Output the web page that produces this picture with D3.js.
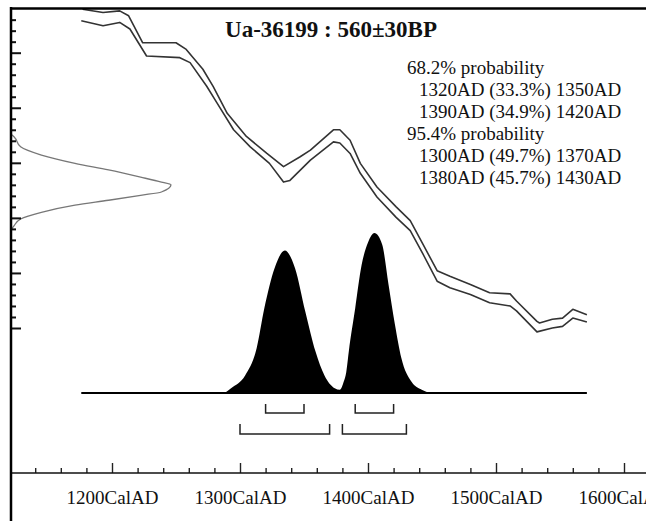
<!DOCTYPE html>
<html>
<head>
<meta charset="utf-8">
<script src="https://cdn.jsdelivr.net/npm/d3@7"></script>
<style>
  html, body { margin: 0; padding: 0; background: #fff; }
  svg { display: block; }
</style>
</head>
<body>
<svg id="chart" width="646" height="521"></svg>
<script>
// ---------------- data ----------------
const title = "Ua-36199 : 560\u00b130BP";
const probText = [
  { text: "68.2% probability", indent: 0 },
  { text: "1320AD (33.3%) 1350AD", indent: 1 },
  { text: "1390AD (34.9%) 1420AD", indent: 1 },
  { text: "95.4% probability", indent: 0 },
  { text: "1300AD (49.7%) 1370AD", indent: 1 },
  { text: "1380AD (45.7%) 1430AD", indent: 1 }
];
const xMajorTicks = [1200, 1300, 1400, 1500, 1600];
const xMinorTicks = [1140,1160,1180,1220,1240,1260,1280,1320,1340,1360,1380,1420,1440,1460,1480,1520,1540,1560,1580];
const yMajorTicks = [300, 400, 500, 600, 700, 800];
const yMinorTicks = [320,340,360,380,420,440,460,480,520,540,560,580,620,640,660,680,720,740,760,780,820,840,860];

// calibration curve envelope (year AD, radiocarbon BP)
const calUpper = [[1177,879],[1193,873],[1206,876],[1213,867],[1224,818],[1250,818],[1258,806],[1271,770],[1279,739],[1290,690],[1305,648],[1321,617],[1334,593],[1347,611],[1355,623],[1373,660],[1378,660],[1386,641],[1394,599],[1407,556],[1422,520],[1433,495],[1443,452],[1454,404],[1464,394],[1480,379],[1495,364],[1511,362],[1516,349],[1532,312],[1534,309],[1544,316],[1552,318],[1560,334],[1571,324]];
const calLower = [[1176,858],[1193,849],[1206,855],[1214,843],[1227,794],[1253,791],[1261,782],[1274,739],[1282,709],[1295,660],[1308,629],[1323,599],[1334,565],[1339,568],[1355,605],[1373,638],[1378,636],[1386,617],[1394,581],[1407,538],[1422,501],[1433,477],[1443,434],[1454,385],[1464,373],[1480,361],[1495,346],[1511,340],[1516,331],[1532,293],[1544,300],[1552,303],[1560,318],[1571,311]];

// radiocarbon measurement (BP, relative probability)
const measured = [[652,0],[647,0.02],[629,0.06],[614,0.19],[599,0.40],[587,0.61],[574,0.81],[565,0.94],[560,1.0],[547,0.94],[541,0.81],[532,0.61],[523,0.40],[510,0.19],[498,0.06],[486,0.02],[478,0]];

// calibrated distribution (year AD, relative probability)
const calibrated = [[1288,0],[1293,0.03],[1304,0.11],[1313,0.28],[1319,0.53],[1327,0.78],[1335,0.89],[1343,0.78],[1351,0.51],[1359,0.26],[1366,0.11],[1374,0.03],[1378,0.02],[1381,0.07],[1383,0.13],[1385,0.26],[1390,0.53],[1395,0.80],[1400,0.94],[1405,1.0],[1411,0.93],[1416,0.68],[1421,0.43],[1426,0.22],[1434,0.07],[1442,0.02],[1448,0]];

const ranges68 = [[1320,1350],[1390,1420]];
const ranges95 = [[1300,1370],[1380,1430]];

// ---------------- drawing ----------------
const svg = d3.select("#chart");
const serif = "'Liberation Serif','Times New Roman',Times,serif";

const x = d3.scaleLinear().domain([1200, 1600]).range([112, 624]);
const y = d3.scaleLinear().domain([300, 800]).range([328, 52.7]);
const axisY = 473, axisX = 11;
const baseY = 393;
const dens = d3.scaleLinear().domain([0, 1]).range([baseY, baseY - 160]);
const measX = d3.scaleLinear().domain([0, 1]).range([axisX, axisX + 160]);

// calibration curve
const calLine = d3.line().x(d => x(d[0])).y(d => y(d[1]));
[calUpper, calLower].forEach(s => {
  svg.append("path").attr("d", calLine(s))
    .attr("fill", "none").attr("stroke", "#333").attr("stroke-width", 1.6)
    .attr("stroke-linejoin", "round");
});

// measured distribution on left
const measLine = d3.line().x(d => measX(d[1])).y(d => y(d[0])).curve(d3.curveMonotoneY);
svg.append("path").attr("d", measLine(measured.slice().sort((a,b)=>a[0]-b[0])))
  .attr("fill", "none").attr("stroke", "#777").attr("stroke-width", 1.3);

// calibrated distribution
const area = d3.area().x(d => x(d[0])).y0(baseY).y1(d => dens(d[1])).curve(d3.curveMonotoneX);
svg.append("path").attr("d", area(calibrated)).attr("fill", "#000");
svg.append("line")
  .attr("x1", x(calLower[0][0])).attr("x2", x(calUpper[calUpper.length-1][0]))
  .attr("y1", baseY).attr("y2", baseY)
  .attr("stroke", "#000").attr("stroke-width", 2);

// range brackets
function bracket(r, top, bottom) {
  return `M${x(r[0])},${top}V${bottom}H${x(r[1])}V${top}`;
}
svg.selectAll(".r68").data(ranges68).enter().append("path")
  .attr("d", r => bracket(r, 404, 413))
  .attr("fill", "none").attr("stroke", "#222").attr("stroke-width", 1.5);
svg.selectAll(".r95").data(ranges95).enter().append("path")
  .attr("d", r => bracket(r, 424, 434))
  .attr("fill", "none").attr("stroke", "#222").attr("stroke-width", 1.5);

// x axis
const gx = svg.append("g").attr("transform", `translate(0,${axisY})`);
gx.append("g").call(d3.axisTop(x).tickValues(xMinorTicks).tickSize(5).tickFormat(""))
  .call(g => g.select(".domain").remove());
gx.append("g").call(d3.axisTop(x).tickValues(xMajorTicks).tickSize(10).tickFormat(""))
  .call(g => g.select(".domain").remove());
gx.append("g").call(d3.axisBottom(x).tickValues(xMajorTicks).tickSize(0).tickPadding(0).tickFormat(d => d + "CalAD"))
  .call(g => g.select(".domain").remove())
  .call(g => g.selectAll("text").attr("y", 31).attr("dy", 0)
    .attr("font-family", serif).attr("font-size", 19).attr("fill", "#111"));
gx.selectAll(".tick line").attr("stroke", "#222").attr("stroke-width", 1.4);
svg.append("line").attr("x1", 10).attr("x2", 646).attr("y1", axisY).attr("y2", axisY)
  .attr("stroke", "#111").attr("stroke-width", 1.6);

// y axis
const gy = svg.append("g").attr("transform", `translate(${axisX},0)`);
gy.append("g").call(d3.axisRight(y).tickValues(yMinorTicks).tickSize(5).tickFormat(""))
  .call(g => g.select(".domain").remove());
gy.append("g").call(d3.axisRight(y).tickValues(yMajorTicks).tickSize(10).tickFormat(""))
  .call(g => g.select(".domain").remove());
gy.selectAll(".tick line").attr("stroke", "#111").attr("stroke-width", 2);

// frame
svg.append("line").attr("x1", axisX).attr("x2", axisX).attr("y1", 7).attr("y2", 521)
  .attr("stroke", "#000").attr("stroke-width", 2.5);
svg.append("line").attr("x1", 10).attr("x2", 646).attr("y1", 8.5).attr("y2", 8.5)
  .attr("stroke", "#000").attr("stroke-width", 2.5);

// title
svg.append("text").attr("x", 331).attr("y", 37).attr("text-anchor", "middle")
  .attr("font-family", serif).attr("font-weight", "bold").attr("font-size", 23)
  .attr("fill", "#111").text(title);

// probability text
svg.selectAll(".prob").data(probText).enter().append("text")
  .attr("x", d => d.indent ? 419 : 407)
  .attr("y", (d, i) => 74 + i * 22)
  .attr("font-family", serif).attr("font-size", 19).attr("fill", "#111")
  .text(d => d.text);
</script>
</body>
</html>
